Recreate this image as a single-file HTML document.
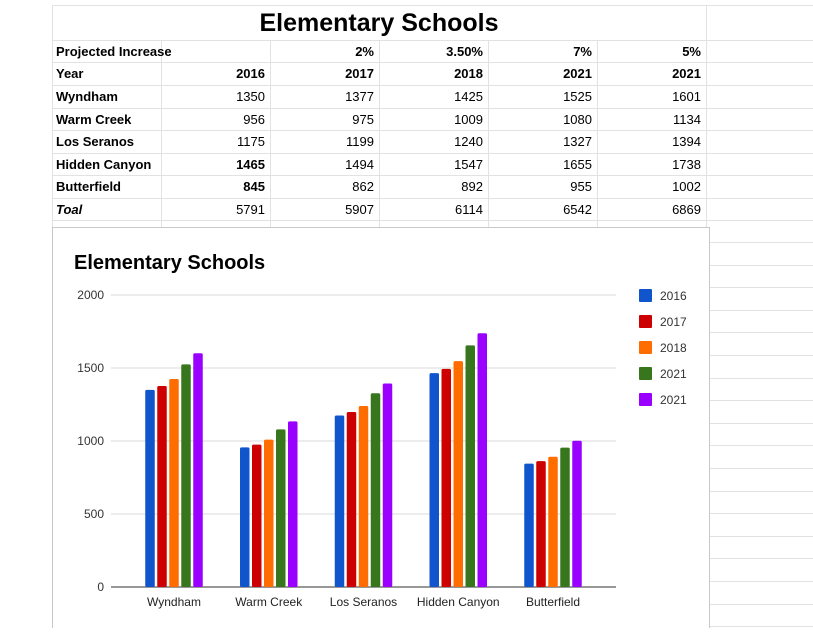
<!DOCTYPE html>
<html><head><meta charset="utf-8">
<style>
body{margin:0;width:813px;height:627px;background:#fff;overflow:hidden;position:relative;font-family:"Liberation Sans",Arial,sans-serif;}
.hl{position:absolute;height:1px;background:#e2e2e2;}
.vl{position:absolute;width:1px;background:#e2e2e2;}
.c{position:absolute;font-size:13px;color:#000;line-height:22px;height:22px;}
.b{font-weight:bold;}
.r{text-align:right;}
#chart{position:absolute;left:52px;top:227px;width:656px;height:400px;background:#fff;border:1px solid #c8c8c8;border-bottom:none;}
</style></head><body>
<div id="table"></div>
<div id="chart">
<svg id="svg" width="656" height="400" xmlns="http://www.w3.org/2000/svg"></svg>
</div>
<script>
// ---- table ----
const colX=[52,161,270,379,488,597,706];
const rowY=[5,40,62,85,108,130,153,175,198,220];
const tbl=document.getElementById('table');
function line(cls,l,t,w,h){const d=document.createElement('div');d.className=cls;d.style.left=l+'px';d.style.top=t+'px';if(w)d.style.width=w+'px';if(h)d.style.height=h+'px';


tbl.appendChild(d);}
rowY.forEach(y=>line('hl',52,y,761,0));
for(let y=242;y<627;y+=22.6) line('hl',708,Math.round(y),105,0);
line('vl',52,5,0,222);line('vl',706,5,0,622);
colX.slice(1,6).forEach(x=>line('vl',x,40,0,187));
line('vl',161,62,0,165);
const rows=[
 [['Projected Increase','b'],null,['2%','b'],['3.50%','b'],['7%','b'],['5%','b']],
 [['Year','b'],['2016','b'],['2017','b'],['2018','b'],['2021','b'],['2021','b']],
 [['Wyndham','b'],['1350'],['1377'],['1425'],['1525'],['1601']],
 [['Warm Creek','b'],['956'],['975'],['1009'],['1080'],['1134']],
 [['Los Seranos','b'],['1175'],['1199'],['1240'],['1327'],['1394']],
 [['Hidden Canyon','b'],['1465','b'],['1494'],['1547'],['1655'],['1738']],
 [['Butterfield','b'],['845','b'],['862'],['892'],['955'],['1002']],
 [['Toal','b i'],['5791'],['5907'],['6114'],['6542'],['6869']]
];
rows.forEach((r,ri)=>r.forEach((c,ci)=>{if(!c)return;const d=document.createElement('div');
 d.className='c '+(c[1]&&c[1].includes('b')?'b ':'')+(ci>0?'r':'');
 if(c[1]&&c[1].includes('i'))d.style.fontStyle='italic';
 d.style.top=(rowY[ri+1]+1)+'px';
 if(ci==0){d.style.left='56px';}else{d.style.left=(colX[ci]+2)+'px';d.style.width=(colX[ci+1]-colX[ci]-7)+'px';}
 d.textContent=c[0];
 
 
 tbl.appendChild(d);}));
const t=document.createElement('div');t.className='c b';t.style.cssText='left:52px;width:654px;top:6px;height:34px;line-height:34px;font-size:25px;text-align:center;';t.textContent='Elementary Schools';


tbl.appendChild(t);

// ---- chart ----
const categories=['Wyndham','Warm Creek','Los Seranos','Hidden Canyon','Butterfield'];
const seriesNames=['2016','2017','2018','2021','2021'];
const s2016=[1350,956,1175,1465,845];
const s2017=[1377,975,1199,1494,862];
const s2018=[1425,1009,1240,1547,892];
const s2021a=[1525,1080,1327,1655,955];
const s2021b=[1601,1134,1394,1738,1002];
const yTicks=[0,500,1000,1500,2000];
const series=[s2016,s2017,s2018,s2021a,s2021b];
const colors=['#1155cc','#cc0000','#ff6d01','#38761d','#9900ff'];
const svg=document.getElementById('svg');const NS='http://www.w3.org/2000/svg';
const ox=52,oy=227;
function y(v){return 586-oy-v*(292/2000);}
function xc(i){return 173-ox+i*94.75;}
function el(tag,attrs,name,txt){const e=document.createElementNS(NS,tag);for(const k in attrs)e.setAttribute(k,attrs[k]);
 
 
 if(txt!==undefined)e.textContent=txt;svg.appendChild(e);return e;}
el('text',{x:21,y:41,'font-size':20,'font-weight':'bold',fill:'#000','font-family':'Liberation Sans, Arial, sans-serif'},'chart-title','Elementary Schools');
yTicks.forEach(v=>{
 el('line',{x1:58,x2:563,y1:y(v),y2:y(v),stroke:v==0?'#777':'#d9d9d9','stroke-width':v==0?1.5:1},'gridline-'+v);
 el('text',{x:51,y:y(v)+4,'font-size':12,fill:'#333','text-anchor':'end','font-family':'Liberation Sans, Arial, sans-serif'},'y-tick-label',String(v));
});
categories.forEach((c,i)=>{
 series.forEach((s,j)=>{
  const bx=xc(i)+(j-2)*12-4.75;
  el('rect',{x:bx,y:y(s[i]),width:9.5,height:y(0)-y(s[i]),fill:colors[j],rx:1.5},'bar-'+c.toLowerCase().replace(' ','-')+'-'+seriesNames[j]);
 });
 el('text',{x:xc(i),y:378,'font-size':12,fill:'#222','text-anchor':'middle','font-family':'Liberation Sans, Arial, sans-serif'},'x-tick-label',c);
});
seriesNames.forEach((n,j)=>{
 el('rect',{x:586,y:61+j*26,width:13,height:13,fill:colors[j],rx:1},'legend-swatch-'+j);
 el('text',{x:607,y:72+j*26,'font-size':12,fill:'#333','font-family':'Liberation Sans, Arial, sans-serif'},'legend-entry-'+j,n);
});
</script>
</body></html>
